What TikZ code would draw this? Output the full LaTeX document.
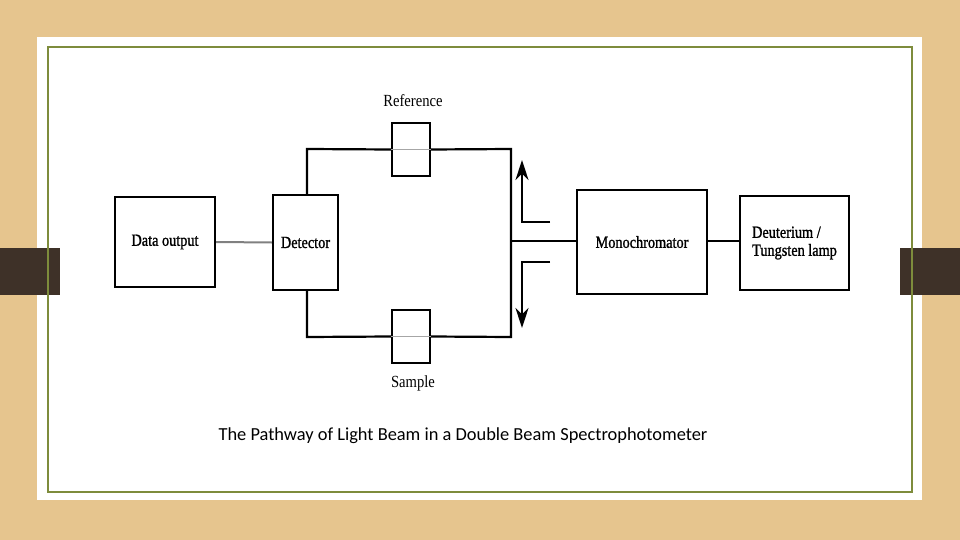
\documentclass[tikz,border=0pt]{standalone}
\usepackage{fontspec}
\setmainfont{Liberation Serif}
\newfontfamily\capfont{Carlito}
\newfontfamily\condfont[FakeStretch=0.84,FakeBold=1.2]{Liberation Serif}
\newfontfamily\condlight[FakeStretch=0.86]{Liberation Serif}
\usetikzlibrary{arrows.meta}
\definecolor{tan}{HTML}{E6C58E}
\definecolor{cardgreen}{HTML}{7E8C3C}
\definecolor{barbrown}{HTML}{3E3128}
\begin{document}
\begin{tikzpicture}[x=1pt,y=-1pt,
  blk/.style={draw,line width=2.4pt,inner sep=0pt},
  lbl/.style={font=\condfont\fontsize{17}{18}\selectfont},
  tlbl/.style={font=\condlight\fontsize{17}{18}\selectfont},
  ln/.style={line width=2.2pt},
  arr/.style={line width=2.2pt,-{Stealth[length=20pt,width=13pt]}}]
\useasboundingbox (0,0) rectangle (960,540);
\fill[tan] (0,0) rectangle (960,540);
\fill[white] (37,37) rectangle (922,500);
\fill[barbrown] (0,248) rectangle (60,295);
\fill[barbrown] (900,248) rectangle (960,295);
\draw[cardgreen,line width=2pt] (48,47) rectangle (912,492);
\fill[white] (97,77) rectangle (862,407);
% boxes
\node[blk,minimum width=100pt,minimum height=90pt,lbl] (data) at (165,242) {Data output};
\node[blk,minimum width=65pt,minimum height=95pt,lbl] (det) at (305.5,242.5) {Detector};
\node[blk,minimum width=130pt,minimum height=104pt,lbl] (mono) at (642,242) {Monochromator};
\node[blk,minimum width=109pt,minimum height=94pt,lbl,align=left] (lamp) at (794.5,243) {Deuterium /\\Tungsten lamp};
\node[draw,line width=2pt,minimum width=38pt,minimum height=53pt] (ref) at (411,149.5) {};
\node[draw,line width=2pt,minimum width=38pt,minimum height=53pt] (samp) at (411,336.5) {};
\node[tlbl] (reft) at (413,101) {Reference};
\node[tlbl] (sampt) at (413,383) {Sample};
% loop
\coordinate (tl) at (307,149); \coordinate (tr) at (511,149);
\coordinate (bl) at (307,337); \coordinate (br) at (511,337);
\draw[ln] (det.north -| tl) -- (tl) -- (ref.west);
\draw[ln] (ref.east) -- (tr) -- (br) -- (samp.east);
\draw[ln] (samp.west) -- (bl) -- (det.south -| bl);
\draw[gray!70,line width=1.5pt] (ref.west) -- (ref.east);
\draw[gray!70,line width=1.5pt] (samp.west) -- (samp.east);
\draw[gray,line width=2pt] (data.east) -- (det.west);
\coordinate (mid) at (511,241);
\draw[ln] (mid) -- (mono.west |- mid);
\draw[ln] (mono.east |- mid) -- (lamp.west |- mid);
\coordinate (ua) at (550,222); \coordinate (ub) at (522,222); \coordinate (uc) at (522,160);
\coordinate (da) at (550,262); \coordinate (db) at (522,262); \coordinate (dc) at (522,328);
\draw[arr] (ua) -- (ub) -- (uc);
\draw[arr] (da) -- (db) -- (dc);
\node[font=\capfont\fontsize{18.4}{20}\selectfont] (cap) at (463,436) {The Pathway of Light Beam in a Double Beam Spectrophotometer};
\end{tikzpicture}
\end{document}
